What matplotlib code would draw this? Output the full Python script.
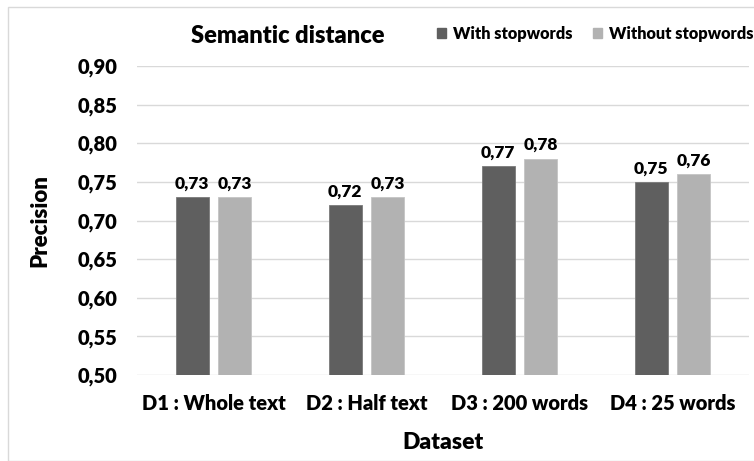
import numpy as np
import matplotlib.pyplot as plt
from matplotlib.patches import Rectangle, Patch

categories = ["D1 : Whole text", "D2 : Half text", "D3 : 200 words", "D4 : 25 words"]
with_stop = [0.73, 0.72, 0.77, 0.75]
without_stop = [0.73, 0.73, 0.78, 0.76]
series_names = ["With stopwords", "Without stopwords"]
yticks = [0.50, 0.55, 0.60, 0.65, 0.70, 0.75, 0.80, 0.85, 0.90]

plt.rcParams["font.family"] = ["Lato", "DejaVu Sans"]
WT = "heavy"
plt.rcParams["font.weight"] = WT

W, H = 754, 461
fig = plt.figure(figsize=(W / 100, H / 100), dpi=100)

# chart frame
fig.patches.append(Rectangle((8 / W, 0), 1, 1 - 7 / H, transform=fig.transFigure,
                             fill=False, edgecolor="#d9d9d9", linewidth=1))

ax = fig.add_axes([137 / W, 1 - 375 / H, (749 - 137) / W, (375 - 66) / H])

dark = "#5f5f5f"
light = "#b2b2b2"
x = np.arange(len(categories))
bw = 0.216
off = 0.14
b1 = ax.bar(x - off, np.array(with_stop) - 0.5, bw, bottom=0.5, color=dark,
            edgecolor="#7a7a7a", linewidth=0.6, zorder=3)
b2 = ax.bar(x + off, np.array(without_stop) - 0.5, bw, bottom=0.5, color=light,
            edgecolor="#c4c4c4", linewidth=0.6, zorder=3)

for bars, vals in ((b1, with_stop), (b2, without_stop)):
    for rect, v in zip(bars, vals):
        ax.annotate(f"{v:.2f}".replace(".", ","),
                    (rect.get_x() + rect.get_width() / 2, v),
                    xytext=(0, 4), textcoords="offset points",
                    ha="center", va="bottom", fontsize=12.5, fontweight=WT)

ax.set_xlim(-0.5, 3.5)
ax.set_ylim(0.50, 0.90)
ax.set_yticks(yticks)
ax.set_yticklabels([f"{t:.2f}".replace(".", ",") for t in yticks])
ax.set_xticks(x)
ax.set_xticklabels(categories)
ax.tick_params(axis="both", length=0, labelsize=14.5)
ax.tick_params(axis="y", pad=14)
ax.tick_params(axis="x", pad=14)
ax.grid(axis="y", color="#d9d9d9", linewidth=1, zorder=0)
for s in ax.spines.values():
    s.set_visible(False)

ax.set_ylabel("Precision", fontsize=16, fontweight=WT, labelpad=20)
ax.set_xlabel("Dataset", fontsize=16.5, fontweight=WT, labelpad=13)

fig.text(288 / W, 1 - 36 / H, "Semantic distance", ha="center", va="center",
         fontsize=17, fontweight=WT)

handles = [Patch(color=dark), Patch(color=light)]
fig.legend(handles, series_names, loc="center left",
           bbox_to_anchor=(437 / W, 1 - 34 / H), ncol=2, frameon=False,
           prop={"size": 11.8, "weight": WT}, handlelength=0.55,
           handleheight=0.55, handletextpad=0.4,
           columnspacing=1.3, borderaxespad=0, borderpad=0)

fig.savefig("out.png", dpi=100)
